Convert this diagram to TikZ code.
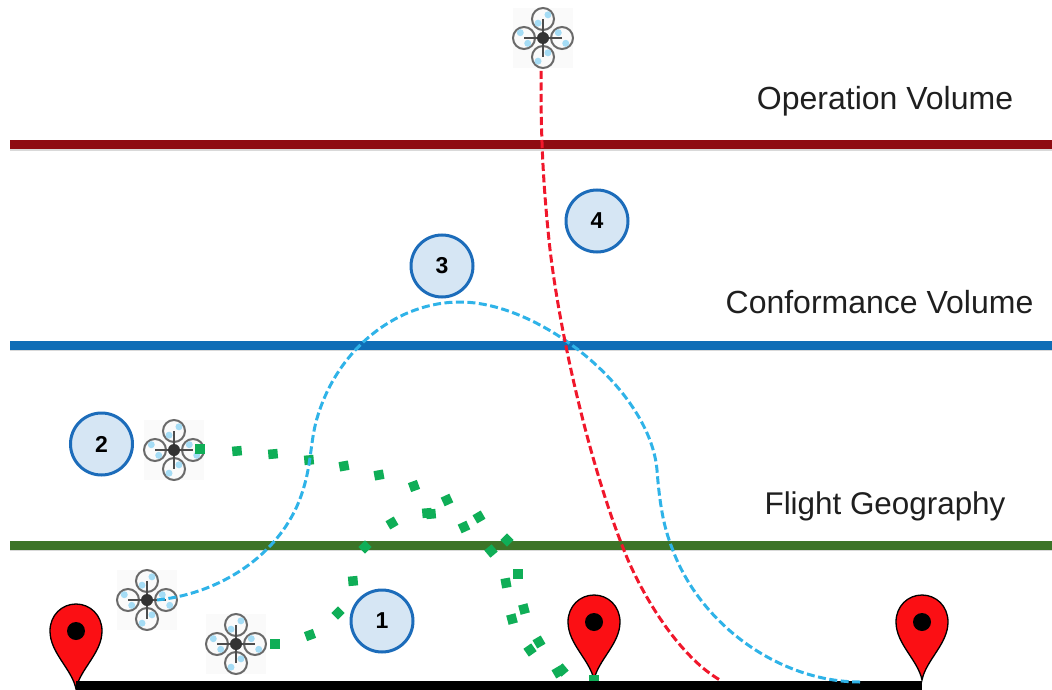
\documentclass[tikz,border=0pt]{standalone}
\usepackage{fontspec}
\setmainfont{Liberation Sans}
\definecolor{lineRed}{HTML}{8E0B12}
\definecolor{lineBlue}{HTML}{0F6DB6}
\definecolor{lineGreen}{HTML}{3C7428}
\definecolor{dotGreen}{HTML}{0FAE57}
\definecolor{curveBlue}{HTML}{2FB3E8}
\definecolor{curveRed}{HTML}{F0172B}
\definecolor{badgeFill}{HTML}{D6E6F4}
\definecolor{badgeEdge}{HTML}{1C6CBA}
\definecolor{pinRed}{HTML}{FB0F14}
\definecolor{rotorBlue}{HTML}{A5DCF5}
\definecolor{droneGrey}{HTML}{6A6A6A}
\tikzset{
  x=1pt,y=-1pt,
  band/.style={line width=9pt},
  bandshadow/.style={line width=9pt,draw=black!15},
  badge/.style={circle,draw=badgeEdge,fill=badgeFill,line width=3pt,minimum size=62pt,inner sep=0pt,font=\bfseries\fontsize{23}{23}\selectfont},
  volume/.style={font=\fontsize{32}{32}\selectfont,inner sep=0pt,text=black!88,anchor=base},
  gdot/.style={rectangle,fill=dotGreen,minimum size=9.5pt,inner sep=0pt,rotate=#1},
  gdot/.default=10,
  dronebg/.style={rectangle,fill=black!2,minimum size=60pt,inner sep=0pt},
  bluepath/.style={draw=curveBlue,line width=3pt,dash pattern=on 8pt off 3.5pt},
  redpath/.style={draw=curveRed,line width=3pt,dash pattern=on 8pt off 3.5pt},
  drone/.pic={
    \foreach \a/\b in {0/-55,90/40,180/-55,270/40}{
      \draw[droneGrey,line width=2pt] (\a:19pt) circle[radius=11pt];
      \fill[rotorBlue] (\a:19pt) ++(\b:6.5pt) circle[radius=3.5pt];
      \fill[rotorBlue] (\a:19pt) ++(\b+180:6.5pt) circle[radius=3.5pt];
      \draw[black!70,line width=2pt] (0,0) -- (\a:19pt);
    }
    \fill[black!80] (0,0) circle[radius=6pt];
  },
  pin/.pic={
    \fill[pinRed,draw=black,line width=1.3pt] (0,0) .. controls (-4,-20) and (-26,-36) .. (-26,-58)
      .. controls (-26,-74) and (-14,-85) .. (0,-85)
      .. controls (14,-85) and (26,-74) .. (26,-58)
      .. controls (26,-36) and (4,-20) .. (0,0) -- cycle;
    \fill[black] (0,-58) circle[radius=9pt];
  }
}
\begin{document}
\begin{tikzpicture}
\useasboundingbox (0,0) rectangle (1052,690);
% anchors of the bands
\coordinate (rL) at (10,145);  \coordinate (rR) at (1052,145);
\coordinate (bL) at (10,345);  \coordinate (bR) at (1052,345);
\coordinate (gL) at (10,545);  \coordinate (gR) at (1052,545);
\coordinate (kL) at (76,686);  \coordinate (kR) at (922,686);
\draw[bandshadow] ([yshift=-1.5pt]rL) -- ([yshift=-1.5pt]rR);
\draw[bandshadow] ([yshift=-1.5pt]bL) -- ([yshift=-1.5pt]bR);
\draw[bandshadow] ([yshift=-1.5pt]gL) -- ([yshift=-1.5pt]gR);
\draw[band,draw=lineRed] (rL) -- (rR);
\draw[band,draw=lineBlue] (bL) -- (bR);
\draw[band,draw=lineGreen] (gL) -- (gR);
% labels
\node[volume] (opv) at (885,110) {Operation Volume};
\node[volume] (cov) at (879.5,313) {Conformance Volume};
\node[volume,font=\fontsize{31.4}{32}\selectfont] (flg) at (885,514) {Flight Geography};
% drones
\node[dronebg] (dTop) at (543,38) {};
\node[dronebg] (dTwo) at (174,450) {};
\node[dronebg] (dBlue) at (147,600) {};
\node[dronebg] (dOne) at (236,644) {};
\pic at (dTop) {drone};
\pic at (dTwo) {drone};
\pic at (dBlue) {drone};
\pic at (dOne) {drone};
% pins
\pic at (76,689) {pin};
\pic at (594,680) {pin};
\pic at (922,680) {pin};
% green dots
\foreach \i/\x/\y/\r in {a/200/449/0,b/237/451/5,c/273/454/5,d/309/460/5,e/344/466/10,f/379/475/10,g/414/486/20,h/447/500/25,i/479/517/30,j/507/540/45,k/518/574/0,l/524/609/15,m/539/642/30,n/562/670/40}
  \node[gdot=\r] (p\i) at (\x,\y) {};
\foreach \i/\x/\y/\r in {a/275/644/0,b/310/635/20,c/338/613/45,d/353/581/5,e/365/547/45,f/392/523/30,g/427/513/5,h/431/514/5,i/464/527/25,j/491/551/40,k/506/583/10,l/512/619/15,m/530/650/35,n/558/672/30,o/594/680/0}
  \node[gdot=\r] (q\i) at (\x,\y) {};
\draw[line width=11pt,black] (kL) -- (kR);
% flight paths
\coordinate (bEnd) at (860,682);
\coordinate (rEnd) at (720,680);
\draw[bluepath] (dBlue.center) ++(10,0) coordinate (bStart)
  .. controls (225,593) and (285,550) .. (303,490)
  .. controls (312,462) and (310,440) .. (318,415)
  .. controls (340,345) and (400,302) .. (460,302)
  .. controls (540,302) and (650,390) .. (657,470)
  .. controls (660,510) and (665,530) .. (672,548)
  .. controls (700,625) and (780,682) .. (bEnd);
\draw[redpath] (dTop.center) ++(-2,33) coordinate (rStart)
  .. controls (541,110) and (541,160) .. (548,230)
  .. controls (556,320) and (590,470) .. (628,560)
  .. controls (650,610) and (685,660) .. (rEnd);
% numbered badges
\node[badge] (n1) at (382,621) {1};
\node[badge] (n2) at (101.5,444) {2};
\node[badge] (n3) at (442,266) {3};
\node[badge] (n4) at (597,221) {4};
\end{tikzpicture}
\end{document}
